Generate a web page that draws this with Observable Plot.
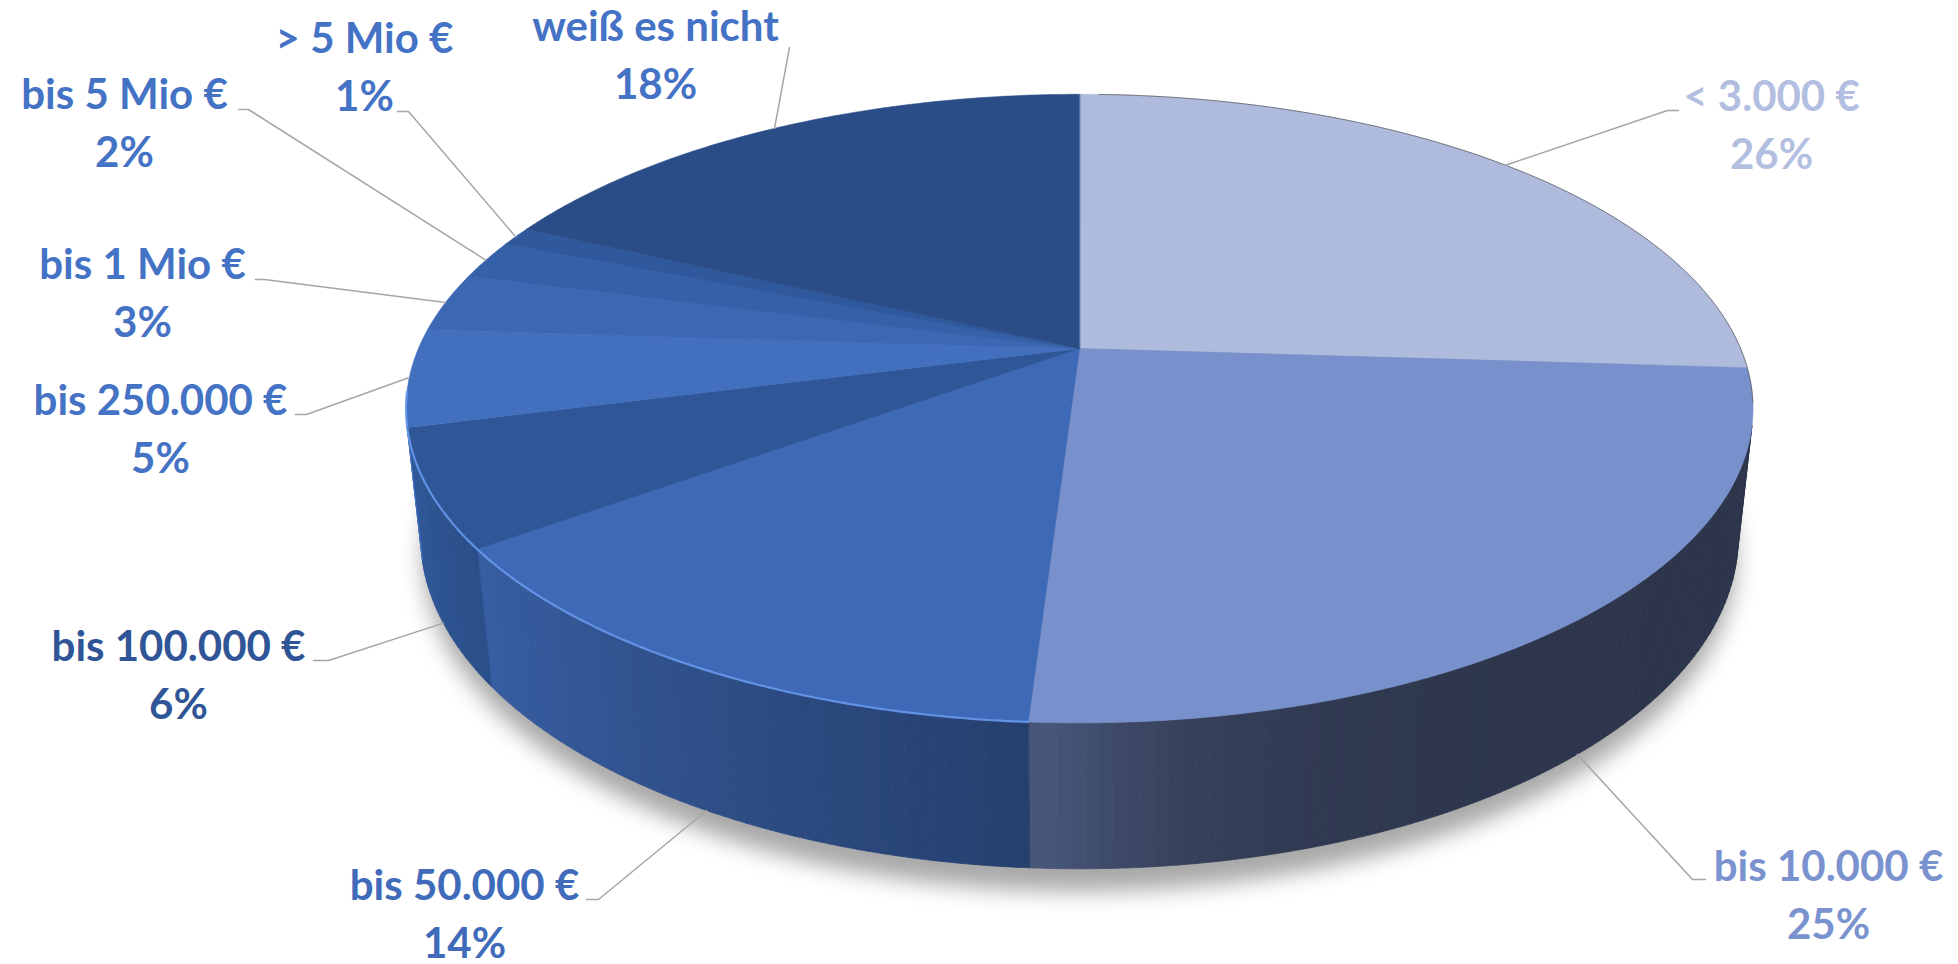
<!DOCTYPE html>
<html>
<head>
<meta charset="utf-8">
<script src="https://cdn.jsdelivr.net/npm/d3@7"></script>
<script src="https://cdn.jsdelivr.net/npm/@observablehq/plot@0.6"></script>
<style>
  html, body { margin: 0; padding: 0; background: #ffffff; }
  #chart svg { display: block; }
</style>
</head>
<body>
<div id="chart"></div>
<script>
// ---------- data ----------
const categories = ["< 3.000 €", "bis 10.000 €", "bis 50.000 €", "bis 100.000 €", "bis 250.000 €", "bis 1 Mio €", "bis 5 Mio €", "> 5 Mio €", "weiß es nicht"];
const shares = [26, 25, 14, 6, 5, 3, 2, 1, 18];

// ---------- styles ----------
const sliceColors = ["#AFBBDD", "#7890CB", "#3E69B6", "#2F5798", "#4270BF", "#3C67B3", "#3561A9", "#30599D", "#2A4D88"];
const labelColors = ["#B3BFE0", "#7A93CF", "#3F6BBA", "#2F5597", "#4472C4", "#4472C4", "#4472C4", "#4472C4", "#4472C4"];

// ---------- layout ----------
const W = 1958, H = 964;
const view = {cx: 1079, cy: 348, dist: 4.65, focal: 3074, tilt: 27.26, depth: 0.22};
// label block: x centre, baseline of first line
const labelAnchors = [[1771, 110], [1828, 880], [464, 899], [178, 660], [160, 414], [142, 278], [124, 108], [364, 52], [655, 40]];
// leader elbow (x, y) and end x of the short horizontal piece
const leaderElbows = [[1667, 110, 1678], [1692, 879, 1705], [598, 899, 586], [328, 660, 313], [306, 414, 295], [264, 279, 255], [248, 109, 238], [408, 111, 397], [789, 47, 789]];
const lineGap = 58;

// ---------- 3D perspective geometry ----------
const rad = Math.PI / 180;
const sinT = Math.sin(view.tilt * rad), cosT = Math.cos(view.tilt * rad);
function P(deg, z) {
  const t = deg * rad;
  const X = Math.sin(t), Y = Math.cos(t);
  const fwd = view.dist + Y * cosT - z * sinT;
  const up = Y * sinT + z * cosT;
  return [view.cx + view.focal * X / fwd, view.cy - view.focal * up / fwd];
}
const centre = [view.cx, view.cy];
const h = view.depth;
const vMin = Math.acos(-1 / (view.dist * cosT)) / rad;
const vMax = 360 - vMin;

const total = d3.sum(shares);
let acc = 0;
const slices = shares.map((v, i) => {
  const a0 = acc / total * 360; acc += v; const a1 = acc / total * 360;
  return {i, a0, a1, mid: (a0 + a1) / 2};
});

function arc(a0, a1, z, step = 0.5) {
  const n = Math.max(2, Math.ceil((a1 - a0) / step));
  return d3.range(n + 1).map(k => P(a0 + (a1 - a0) * k / n, z));
}
function poly(ring, color) {
  return {type: "Feature", properties: {color}, geometry: {type: "Polygon", coordinates: [ring]}};
}
function line(coords, color) {
  return {type: "Feature", properties: {color}, geometry: {type: "LineString", coordinates: coords}};
}
function shade(hex, k) {
  const c = d3.rgb(hex);
  return d3.rgb(Math.min(255, c.r * k), Math.min(255, c.g * k), Math.min(255, c.b * k)).formatHex();
}
// lighting of the outer wall: light from the left, darker toward the right
const frontAngle = 183;
function wallK(t) {
  return t >= frontAngle
    ? 0.6 + (t - frontAngle) * 0.0058
    : 0.37 + 0.25 * Math.exp(-(frontAngle - t) / 10);
}

// top faces
const tops = slices.map(s => {
  const ring = [centre, ...arc(s.a0, s.a1, 0), centre];
  return poly(ring, sliceColors[s.i]);
});

// visible outer walls, split into thin strips for shading
const walls = [];
for (const s of slices) {
  const lo = Math.max(s.a0, vMin), hi = Math.min(s.a1, vMax);
  if (lo >= hi) continue;
  const n = Math.max(1, Math.ceil((hi - lo) / 1.0));
  for (let k = 0; k < n; ++k) {
    const t0 = lo + (hi - lo) * k / n, t1 = lo + (hi - lo) * (k + 1) / n;
    const top = arc(t0, t1, 0, 0.4), bot = arc(t0, t1, -h, 0.4).reverse();
    walls.push(poly([...top, ...bot, top[0]], shade(sliceColors[s.i], wallK((t0 + t1) / 2))));
  }
}

// soft shadow under the pie
const shadow = [poly([...arc(0, 360, -h - 0.035, 1)], "#000000")];

// rim highlight and back edge
const rims = [line(arc(183.6, 262, 0, 0.5), "#6A9BEE")];
const backEdge = [line(arc(2, 100, 0, 0.5), "#555555")];

// leader lines
const leaders = slices.map(s => {
  const z = Math.cos(s.mid * rad) < -0.3 ? -h : 0;
  const [ex, ey, endX] = leaderElbows[s.i];
  return line([P(s.mid, z), [ex, ey], [endX, ey]], "#A6A6A6");
});

const pct = shares.map(v => `${v}%`);
const idx = d3.range(categories.length);
const frame = {type: "Polygon", coordinates: [[[0, 0], [W, 0], [W, H], [0, H], [0, 0]]]};

const chart = Plot.plot({
  width: W,
  height: H,
  margin: 0,
  style: {background: "#ffffff", overflow: "visible"},
  projection: {type: "identity", domain: frame},
  color: {type: "identity"},
  marks: [
    Plot.geo(shadow, {fill: "#000000", fillOpacity: 0.34}),
    Plot.geo(walls, {fill: d => d.properties.color, stroke: d => d.properties.color, strokeWidth: 0.8}),
    Plot.geo(tops, {fill: d => d.properties.color, stroke: d => d.properties.color, strokeWidth: 0.6}),
    Plot.geo(rims, {stroke: d => d.properties.color, strokeWidth: 2.2, strokeOpacity: 0.85, fill: "none"}),
    Plot.geo(backEdge, {stroke: d => d.properties.color, strokeWidth: 1, strokeOpacity: 0.7, fill: "none"}),
    Plot.geo(leaders, {stroke: d => d.properties.color, strokeWidth: 1.5, fill: "none"}),
    Plot.text(idx, {
      x: i => labelAnchors[i][0], y: i => labelAnchors[i][1],
      text: i => categories[i], fill: i => labelColors[i],
      lineAnchor: "bottom", textAnchor: "middle",
      fontSize: 42, fontWeight: 700, fontFamily: "Lato, 'Open Sans', sans-serif"
    }),
    Plot.text(idx, {
      x: i => labelAnchors[i][0], y: i => labelAnchors[i][1] + lineGap,
      text: i => pct[i], fill: i => labelColors[i],
      lineAnchor: "bottom", textAnchor: "middle",
      fontSize: 42, fontWeight: 700, fontFamily: "Lato, 'Open Sans', sans-serif"
    })
  ]
});

const svg = d3.select(chart);
svg.insert("defs", ":first-child").html(
  '<filter id="softShadow" x="-20%" y="-30%" width="140%" height="160%"><feGaussianBlur stdDeviation="11"/></filter>'
);
const geoGroups = svg.selectAll('g[aria-label="geo"]').nodes();
if (geoGroups.length) d3.select(geoGroups[0]).attr("filter", "url(#softShadow)");

document.getElementById("chart").appendChild(chart);
</script>
</body>
</html>
